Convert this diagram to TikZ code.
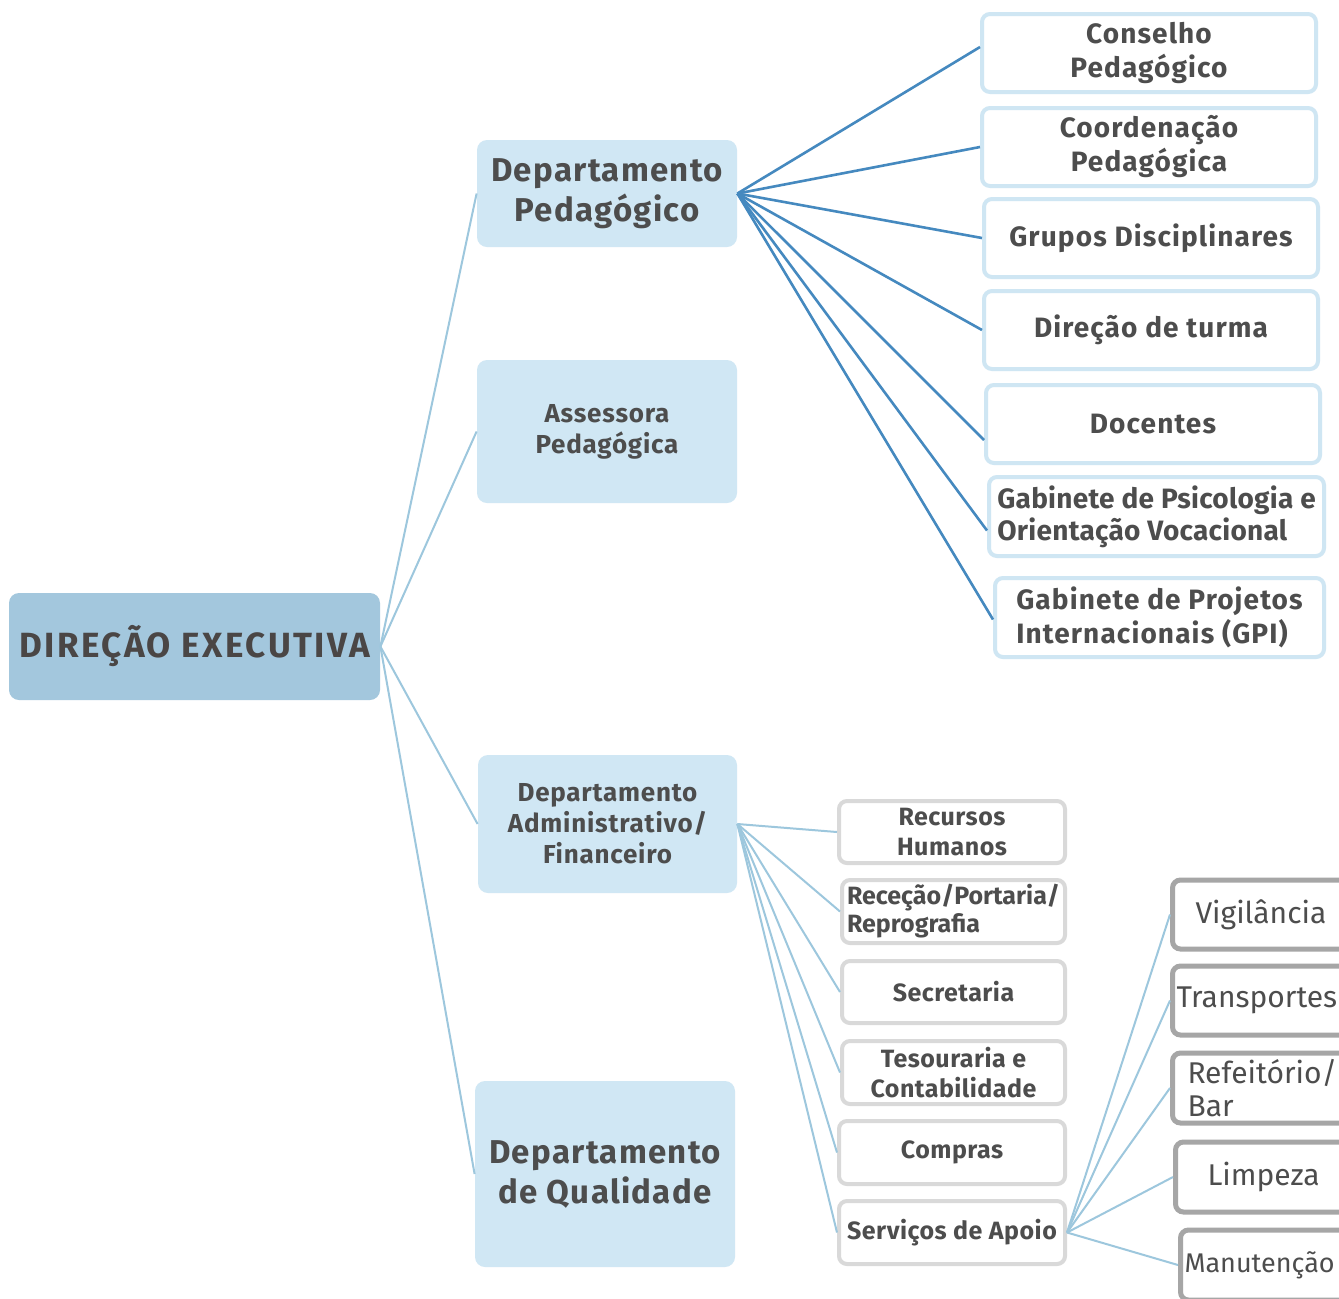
\documentclass[tikz,border=0pt]{standalone}
\usepackage{fontspec}
\setmainfont{Fira Sans}[LetterSpace=2]
\definecolor{rootfill}{HTML}{A3C7DD}
\definecolor{deptfill}{HTML}{D0E7F4}
\definecolor{pedborder}{HTML}{CFE6F3}
\definecolor{admborder}{HTML}{D9D9D9}
\definecolor{supborder}{HTML}{A6A6A6}
\definecolor{darkblue}{HTML}{4589BF}
\definecolor{lightblue}{HTML}{9DC7DD}
\definecolor{tgray}{HTML}{4D4D4D}
\definecolor{roottext}{HTML}{4A4645}
\newcommand\bx[7]{\node[#6, minimum width={(#4-#2)*0.5pt}, minimum height={(#5-#3)*0.5pt}] (#1) at ({(#2+#4)/2},{(#3+#5)/2}) {#7};}
\newcommand\sbx[7][]{\node[supbox, #1, anchor=west, minimum height={(#5-#4)*0.5pt}, text width=150pt, inner xsep={#6*0.5pt}] (#2) at (#3,{(#4+#5)/2}) {#7};}
\begin{document}
\begin{tikzpicture}[x=0.5pt,y=-0.5pt,
 txt/.style={text=tgray, align=center, inner sep=0pt},
 rootbox/.style={txt, fill=rootfill, rounded corners=5pt, font=\bfseries\fontsize{17.5}{20}\selectfont\addfontfeature{LetterSpace=7}, text=roottext},
 deptbig/.style={txt, fill=deptfill, rounded corners=5pt, font=\bfseries\fontsize{16.5}{20}\selectfont\addfontfeature{LetterSpace=4}},
 deptsmall/.style={txt, fill=deptfill, rounded corners=5pt, font=\bfseries\fontsize{13}{15.5}\selectfont\addfontfeature{LetterSpace=3}},
 pedbox/.style={txt, fill=white, draw=pedborder, line width=2pt, rounded corners=4pt, font=\bfseries\fontsize{14}{17}\selectfont\addfontfeature{LetterSpace=4}},
 pedtight/.style={font=\bfseries\fontsize{14}{16}\selectfont\addfontfeature{LetterSpace=1}},
 admbox/.style={txt, fill=white, draw=admborder, line width=2pt, rounded corners=4pt, font=\bfseries\fontsize{12.5}{15}\selectfont},
 admtight/.style={font=\bfseries\fontsize{12.5}{14}\selectfont\addfontfeature{LetterSpace=0}},
 supbox/.style={txt, fill=white, draw=supborder, line width=2.5pt, rounded corners=4pt, font=\fontsize{15}{16.5}\selectfont\addfontfeature{LetterSpace=0}, align=left},
 suptight/.style={font=\fontsize{13.5}{16}\selectfont\addfontfeature{LetterSpace=0}},
 darkline/.style={draw=darkblue, line width=1.3pt},
 lightline/.style={draw=lightblue, line width=1pt},
]
\useasboundingbox[fill=white] (0,0) rectangle (1339,1298);

% root and departments
\bx{root}{9}{593}{380}{700}{rootbox}{DIREÇÃO EXECUTIVA}
\bx{dped}{477}{140}{737}{247}{deptbig}{Departamento\\Pedagógico}
\bx{asse}{477}{360}{737}{503}{deptsmall}{Assessora\\Pedagógica}
\bx{dadm}{478}{755}{737}{893}{deptsmall}{Departamento\\Administrativo/\\Financeiro}
\bx{dqua}{475}{1081}{735}{1267}{deptbig}{Departamento\\de Qualidade}

% pedagogical sub-units
\bx{cons}{982}{14}{1316}{92}{pedbox}{Conselho\\Pedagógico}
\bx{coor}{982}{108}{1316}{186}{pedbox}{Coordenação\\Pedagógica}
\bx{grup}{984}{199}{1318}{277}{pedbox}{Grupos Disciplinares}
\bx{dirt}{984}{291}{1318}{369}{pedbox}{Direção de turma}
\bx{doce}{986}{385}{1320}{463}{pedbox}{Docentes}
\bx{gpsi}{989}{477}{1324}{556}{pedbox,pedtight,align=left}{Gabinete de Psicologia e\\Orientação Vocacional}
\bx{gpro}{995}{578}{1324}{657}{pedbox,align=left}{Gabinete de Projetos\\Internacionais (GPI)}

% administrative sub-units
\bx{recu}{839}{801}{1065}{863}{admbox}{Recursos\\Humanos}
\bx{rece}{842}{880}{1065}{943}{admbox,admtight,align=left}{Receção/Portaria/\\Reprografia}
\bx{secr}{842}{961}{1065}{1023}{admbox}{Secretaria}
\bx{teso}{842}{1041}{1065}{1104}{admbox}{Tesouraria e\\Contabilidade}
\bx{comp}{839}{1121}{1065}{1184}{admbox}{Compras}
\bx{serv}{839}{1201}{1065}{1264}{admbox}{Serviços de Apoio}

% support services
\sbx{vigi}{1170}{880}{949}{23}{Vigilância}
\sbx{tran}{1170}{966}{1035}{4}{Transportes}
\sbx{refe}{1170}{1053}{1123}{15}{Refeitório/\\Bar}
\sbx{limp}{1173}{1142}{1212}{32}{Limpeza}
\sbx[suptight]{manu}{1178}{1230}{1300}{4}{Manutenção}

% connectors
\foreach \t in {dped,asse,dadm,dqua} \draw[lightline] (root.east) -- (\t.west);
\draw[darkline] (dped.east) -- ([yshift=3pt]cons.west);
\foreach \t in {coor,grup,dirt} \draw[darkline] (dped.east) -- (\t.west);
\draw[darkline] (dped.east) -- ([yshift=-8pt]doce.west);
\draw[darkline] (dped.east) -- ([yshift=-7pt]gpsi.west);
\draw[darkline] (dped.east) -- ([yshift=-1pt]gpro.west);
\foreach \t in {recu,rece,secr,teso,comp,serv} \draw[lightline] (dadm.east) -- (\t.west);
\foreach \t in {vigi,tran,refe,limp,manu} \draw[lightline] (serv.east) -- (\t.west);
\end{tikzpicture}
\end{document}
